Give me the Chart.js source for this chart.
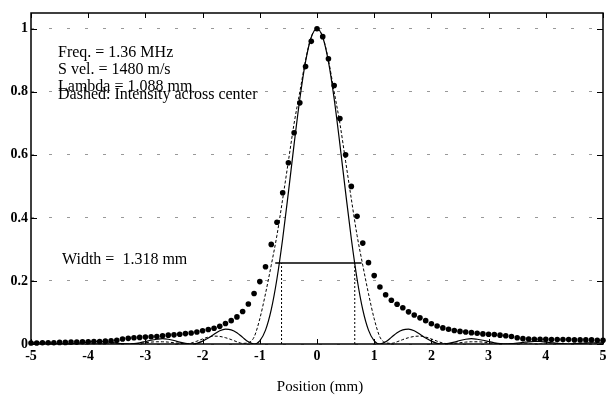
<!DOCTYPE html>
<html>
<head>
<meta charset="utf-8">
<title>Beam profile</title>
<script src="https://cdn.jsdelivr.net/npm/chart.js@4.4.1/dist/chart.umd.min.js"></script>
<style>
  html, body { margin: 0; padding: 0; background: #fff; }
  #wrap { width: 607px; height: 398px; }
</style>
</head>
<body>
<div id="wrap"><canvas id="beamChart" width="607" height="398"></canvas></div>
<script>
// positions (mm), one sample every 0.1 mm
const posX = [
  -5.0, -4.9, -4.8, -4.7, -4.6, -4.5, -4.4, -4.3, -4.2, -4.1,
  -4.0, -3.9, -3.8, -3.7, -3.6, -3.5, -3.4, -3.3, -3.2, -3.1,
  -3.0, -2.9, -2.8, -2.7, -2.6, -2.5, -2.4, -2.3, -2.2, -2.1,
  -2.0, -1.9, -1.8, -1.7, -1.6, -1.5, -1.4, -1.3, -1.2, -1.1,
  -1.0, -0.9, -0.8, -0.7, -0.6, -0.5, -0.4, -0.3, -0.2, -0.1,
  0.0,
  0.1, 0.2, 0.3, 0.4, 0.5, 0.6, 0.7, 0.8, 0.9, 1.0,
  1.1, 1.2, 1.3, 1.4, 1.5, 1.6, 1.7, 1.8, 1.9, 2.0,
  2.1, 2.2, 2.3, 2.4, 2.5, 2.6, 2.7, 2.8, 2.9, 3.0,
  3.1, 3.2, 3.3, 3.4, 3.5, 3.6, 3.7, 3.8, 3.9, 4.0,
  4.1, 4.2, 4.3, 4.4, 4.5, 4.6, 4.7, 4.8, 4.9, 5.0
];

// solid line
const solidY = [
  0.004, 0.004, 0.004, 0.003, 0.002, 0.001, 0.000, 0.001, 0.002, 0.004,
  0.006, 0.008, 0.008, 0.007, 0.005, 0.003, 0.001, 0.000, 0.001, 0.004,
  0.008, 0.012, 0.015, 0.017, 0.015, 0.011, 0.006, 0.002, 0.000, 0.002,
  0.009, 0.019, 0.031, 0.042, 0.047, 0.045, 0.036, 0.021, 0.007, 0.000,
  0.010, 0.044, 0.109, 0.207, 0.334, 0.481, 0.634, 0.778, 0.896, 0.973,
  1.000,
  0.973, 0.896, 0.778, 0.634, 0.481, 0.334, 0.207, 0.109, 0.044, 0.010,
  0.000, 0.007, 0.021, 0.036, 0.045, 0.047, 0.042, 0.031, 0.019, 0.009,
  0.002, 0.000, 0.002, 0.006, 0.011, 0.015, 0.017, 0.015, 0.012, 0.008,
  0.004, 0.001, 0.000, 0.001, 0.003, 0.005, 0.007, 0.008, 0.008, 0.006,
  0.004, 0.002, 0.001, 0.000, 0.001, 0.002, 0.003, 0.004, 0.004, 0.004
];

// dashed: intensity across center
const dashedY = [
  0.000, 0.000, 0.000, 0.000, 0.000, 0.000, 0.000, 0.000, 0.000, 0.000,
  0.000, 0.000, 0.000, 0.000, 0.000, 0.000, 0.000, 0.000, 0.001, 0.002,
  0.004, 0.006, 0.007, 0.007, 0.006, 0.004, 0.002, 0.001, 0.003, 0.009,
  0.016, 0.022, 0.025, 0.024, 0.020, 0.014, 0.007, 0.002, 0.004, 0.022,
  0.080, 0.160, 0.250, 0.345, 0.460, 0.580, 0.700, 0.800, 0.900, 0.975,
  1.000,
  0.975, 0.900, 0.800, 0.700, 0.580, 0.460, 0.345, 0.250, 0.160, 0.080,
  0.022, 0.004, 0.002, 0.007, 0.014, 0.020, 0.024, 0.025, 0.022, 0.016,
  0.009, 0.003, 0.001, 0.002, 0.004, 0.006, 0.007, 0.007, 0.006, 0.004,
  0.002, 0.001, 0.000, 0.000, 0.000, 0.000, 0.000, 0.000, 0.000, 0.000,
  0.000, 0.000, 0.000, 0.000, 0.000, 0.000, 0.000, 0.000, 0.000, 0.000
];

// measured points (dots)
const dotY = [
  0.003, 0.003, 0.004, 0.004, 0.004, 0.005, 0.005, 0.006, 0.006, 0.007,
  0.007, 0.008, 0.008, 0.009, 0.010, 0.012, 0.016, 0.018, 0.020, 0.021,
  0.022, 0.023, 0.024, 0.026, 0.028, 0.029, 0.031, 0.033, 0.035, 0.038,
  0.042, 0.046, 0.050, 0.056, 0.065, 0.074, 0.086, 0.103, 0.127, 0.160,
  0.198, 0.245, 0.316, 0.386, 0.480, 0.575, 0.670, 0.765, 0.880, 0.960,
  1.000,
  0.975, 0.905, 0.820, 0.715, 0.600, 0.500, 0.405, 0.320, 0.258, 0.217,
  0.181, 0.156, 0.139, 0.126, 0.115, 0.102, 0.092, 0.083, 0.074, 0.064,
  0.057, 0.051, 0.047, 0.043, 0.040, 0.038, 0.036, 0.034, 0.032, 0.031,
  0.030, 0.028, 0.026, 0.024, 0.020, 0.017, 0.016, 0.015, 0.015, 0.015,
  0.014, 0.014, 0.014, 0.014, 0.013, 0.013, 0.013, 0.013, 0.012, 0.012
];

// width marker
const widthLineX = [-0.73, 0.78];
const widthMarkX = [-0.62, 0.66];
const widthLevel = 0.257;

// ticks
const xTicks = [-5, -4, -3, -2, -1, 0, 1, 2, 3, 4, 5];
const yTicks = [0, 0.2, 0.4, 0.6, 0.8, 1];

const notes = [
  'Freq. = 1.36 MHz',
  'S vel. = 1480 m/s',
  'Lambda = 1.088 mm',
  'Dashed: Intensity across center'
];
const widthNote = 'Width =  1.318 mm';
const xTitle = 'Position (mm)';

const serif = "'Liberation Serif', 'Times New Roman', serif";

const pts = ys => posX.map((x, i) => ({ x: x, y: ys[i] }));

// frame, inward ticks, texts
const framePlugin = {
  id: 'frame',
  beforeDatasetsDraw(chart) {
    const { ctx, chartArea: a, scales: { x, y } } = chart;
    ctx.save();
    ctx.strokeStyle = '#000';
    ctx.lineWidth = 1.5;
    ctx.strokeRect(a.left, a.top, a.right - a.left, a.bottom - a.top);
    ctx.lineWidth = 1;
    ctx.beginPath();
    xTicks.forEach(v => {
      const px = Math.round(x.getPixelForValue(v)) + 0.5;
      ctx.moveTo(px, a.bottom); ctx.lineTo(px, a.bottom - 5);
      ctx.moveTo(px, a.top); ctx.lineTo(px, a.top + 5);
    });
    yTicks.forEach(v => {
      const py = Math.round(y.getPixelForValue(v)) + 0.5;
      ctx.moveTo(a.left, py); ctx.lineTo(a.left + 6, py);
      ctx.moveTo(a.right, py); ctx.lineTo(a.right - 6, py);
    });
    ctx.stroke();
    ctx.restore();
  },
  afterDraw(chart) {
    const { ctx } = chart;
    ctx.save();
    ctx.fillStyle = '#000';
    ctx.font = '16px ' + serif;
    ctx.textAlign = 'left';
    ctx.textBaseline = 'alphabetic';
    ctx.fillText(notes[0], 58, 57);
    ctx.fillText(notes[1], 58, 74);
    ctx.fillText(notes[2], 58, 91);
    ctx.fillText(notes[3], 58, 99);
    ctx.fillText(widthNote, 62, 264);
    ctx.font = '15px ' + serif;
    ctx.textAlign = 'center';
    ctx.fillText(xTitle, 320, 391);
    ctx.restore();
  }
};

new Chart(document.getElementById('beamChart'), {
  type: 'scatter',
  data: {
    datasets: [
      {
        data: pts(solidY),
        showLine: true,
        borderColor: '#000',
        borderWidth: 1.2,
        pointRadius: 0,
        cubicInterpolationMode: 'monotone'
      },
      {
        data: pts(dashedY),
        showLine: true,
        borderColor: '#000',
        borderWidth: 1,
        borderDash: [3, 2],
        pointRadius: 0,
        cubicInterpolationMode: 'monotone'
      },
      {
        data: pts(dotY),
        showLine: false,
        pointRadius: 2.8,
        pointBackgroundColor: '#000',
        pointBorderWidth: 0,
        clip: 5
      },
      {
        data: widthLineX.map(x => ({ x: x, y: widthLevel })),
        showLine: true,
        borderColor: '#000',
        borderWidth: 1.3,
        pointRadius: 0
      },
      {
        data: [{ x: widthMarkX[0], y: 0 }, { x: widthMarkX[0], y: widthLevel }],
        showLine: true,
        borderColor: '#000',
        borderWidth: 1,
        borderDash: [2, 2],
        pointRadius: 0
      },
      {
        data: [{ x: widthMarkX[1], y: 0 }, { x: widthMarkX[1], y: widthLevel }],
        showLine: true,
        borderColor: '#000',
        borderWidth: 1,
        borderDash: [2, 2],
        pointRadius: 0
      }
    ]
  },
  options: {
    responsive: false,
    animation: false,
    devicePixelRatio: 1,
    layout: { padding: { top: 13, right: 2, left: 0, bottom: 0 } },
    plugins: {
      legend: { display: false },
      tooltip: { enabled: false }
    },
    scales: {
      x: {
        type: 'linear',
        min: -5,
        max: 5,
        afterBuildTicks: s => { s.ticks = xTicks.map(v => ({ value: v })); },
        afterFit: s => { s.height = 54; s.paddingLeft = 0; s.paddingRight = 0; },
        grid: { display: false, drawTicks: false },
        border: { display: false },
        ticks: {
          color: '#000',
          padding: 4,
          maxRotation: 0,
          font: { family: serif, size: 14, weight: 'bold' },
          callback: v => String(v)
        }
      },
      y: {
        type: 'linear',
        min: 0,
        max: 1.05,
        afterBuildTicks: s => { s.ticks = yTicks.map(v => ({ value: v })); },
        afterFit: s => { s.width = 31; s.paddingTop = 0; s.paddingBottom = 0; },
        grid: { color: '#999', lineWidth: 1, drawTicks: false },
        border: { display: false, dash: [3, 15] },
        ticks: {
          color: '#000',
          padding: 3,
          font: { family: serif, size: 14, weight: 'bold' },
          callback: v => String(v)
        }
      }
    }
  },
  plugins: [framePlugin]
});
</script>
</body>
</html>
